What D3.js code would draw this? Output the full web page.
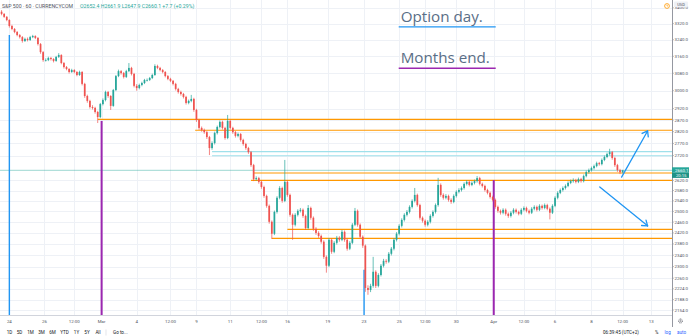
<!DOCTYPE html>
<html><head><meta charset="utf-8">
<script src="https://cdn.jsdelivr.net/npm/d3@7"></script>
<style>html,body{margin:0;padding:0;background:#fff;overflow:hidden}text{font-family:Roboto,"Noto Sans",sans-serif}</style>
</head><body><svg id="chart" width="689" height="336"></svg>
<script>
// S&P 500 CFD, 60-minute bars, 24 Feb - early Apr
const open = [3380,3369,3354,3338,3308,3293,3278,3263,3253,3234,
3244,3239,3253,3258,3249,3219,3180,3142,3142,3152,
3147,3138,3157,3166,3128,3109,3100,3086,3095,3086,
3072,3086,3031,2976,2954,2927,2923,2905,2883,2940,
2958,2994,2976,2932,3003,3067,3090,3081,3063,3090,
3105,3077,3022,3012,3026,3035,3049,3049,3058,3072,
3114,3105,3095,3086,3067,3054,3045,3031,3008,2994,
2985,2972,2945,2954,2963,2914,2870,2836,2827,2818,
2797,2751,2772,2814,2840,2862,2836,2793,2866,2836,
2818,2802,2810,2785,2768,2751,2734,2681,2625,2629,
2614,2594,2559,2521,2461,2417,2498,2552,2590,2540,
2614,2563,2487,2450,2487,2502,2506,2483,2438,2513,
2476,2435,2420,2409,2388,2334,2303,2395,2352,2384,
2402,2395,2424,2395,2363,2384,2450,2502,2450,2406,
2374,2227,2220,2234,2282,2234,2271,2303,2320,2317,
2345,2363,2395,2417,2446,2468,2487,2498,2517,2540,
2563,2524,2476,2465,2450,2461,2483,2498,2524,2602,
2563,2552,2559,2544,2536,2559,2575,2582,2590,2606,
2614,2602,2610,2617,2629,2606,2598,2582,2571,2555,
2544,2517,2502,2495,2506,2491,2483,2495,2506,2498,
2491,2506,2513,2502,2495,2510,2517,2506,2521,2513,
2524,2510,2495,2521,2552,2571,2582,2590,2598,2610,
2617,2621,2614,2625,2617,2637,2653,2661,2669,2677,
2689,2685,2702,2714,2726,2734,2710,2681,2661,2652.4];
const high = [3388,3373,3358,3342,3314,3298,3283,3268,3258,3250,
3251,3259,3264,3262,3253,3224,3185,3150,3158,3157,
3151,3162,3175,3170,3133,3114,3104,3101,3099,3090,
3092,3090,3036,2982,2959,2935,2928,2910,2945,2965,
3000,2999,2980,3008,3072,3097,3095,3086,3096,3128,
3110,3082,3030,3032,3041,3054,3056,3063,3078,3122,
3120,3110,3100,3090,3072,3059,3049,3036,3013,3000,
2990,2977,2960,2981,2968,2919,2875,2842,2833,2823,
2802,2779,2820,2846,2868,2867,2841,2892,2871,2841,
2823,2816,2814,2790,2773,2756,2739,2686,2636,2634,
2619,2599,2564,2526,2466,2503,2558,2597,2595,2702,
2620,2568,2492,2493,2508,2513,2511,2488,2524,2518,
2481,2441,2426,2414,2393,2339,2401,2400,2390,2409,
2408,2431,2429,2400,2390,2456,2513,2507,2455,2411,
2378,2236,2241,2334,2287,2277,2309,2327,2326,2351,
2369,2401,2423,2452,2474,2493,2505,2523,2546,2590,
2568,2529,2481,2470,2467,2489,2504,2530,2630,2608,
2569,2566,2564,2550,2565,2581,2589,2596,2612,2621,
2619,2616,2623,2637,2634,2611,2603,2587,2576,2560,
2549,2522,2507,2512,2511,2496,2501,2512,2511,2503,
2512,2519,2518,2507,2516,2523,2522,2527,2526,2530,
2529,2515,2527,2558,2577,2588,2596,2604,2616,2623,
2628,2626,2631,2630,2643,2659,2667,2675,2683,2695,
2694,2708,2720,2732,2748,2739,2715,2686,2666,2661.9];
const low = [3362,3349,3332,3300,3287,3272,3257,3246,3226,3229,
3232,3234,3248,3243,3212,3172,3134,3135,3137,3140,
3131,3134,3152,3122,3102,3094,3079,3082,3080,3066,
3068,3024,2968,2946,2920,2916,2898,2857,2878,2934,
2952,2968,2914,2928,2998,3062,3074,3056,3058,3085,
3070,3015,3000,3006,3020,3030,3042,3044,3053,3068,
3099,3089,3080,3061,3048,3039,3024,3001,2987,2978,
2965,2938,2939,2948,2906,2862,2828,2820,2811,2789,
2722,2744,2766,2808,2834,2829,2786,2788,2830,2811,
2795,2796,2778,2761,2744,2727,2674,2617,2618,2607,
2587,2552,2514,2454,2398,2412,2492,2546,2533,2535,
2556,2480,2395,2444,2481,2496,2476,2431,2433,2469,
2428,2413,2402,2381,2327,2279,2298,2345,2347,2378,
2388,2390,2388,2356,2358,2379,2445,2443,2399,2366,
2214,2204,2213,2228,2227,2229,2266,2297,2310,2312,
2339,2357,2389,2411,2440,2462,2481,2492,2511,2534,
2518,2469,2458,2443,2444,2455,2477,2492,2518,2556,
2545,2546,2537,2529,2531,2553,2569,2576,2584,2600,
2596,2597,2604,2611,2600,2592,2576,2565,2549,2538,
2510,2495,2488,2489,2484,2476,2477,2489,2492,2485,
2486,2500,2496,2489,2490,2504,2500,2501,2507,2508,
2504,2470,2490,2516,2546,2566,2576,2584,2593,2605,
2611,2608,2609,2611,2612,2632,2647,2655,2663,2672,
2679,2680,2697,2709,2720,2703,2674,2654,2645,2647.9];
const close = [3369,3354,3338,3308,3293,3278,3263,3253,3234,3244,
3239,3253,3258,3249,3219,3180,3142,3142,3152,3147,
3138,3157,3166,3128,3109,3100,3086,3095,3086,3072,
3086,3031,2976,2954,2927,2923,2905,2883,2940,2958,
2994,2976,2932,3003,3067,3090,3081,3063,3090,3105,
3077,3022,3012,3026,3035,3049,3049,3058,3072,3114,
3105,3095,3086,3067,3054,3045,3031,3008,2994,2985,
2972,2945,2954,2963,2914,2870,2836,2827,2818,2797,
2751,2772,2814,2840,2862,2836,2793,2866,2836,2818,
2802,2810,2785,2768,2751,2734,2681,2625,2629,2614,
2594,2559,2521,2461,2417,2498,2552,2590,2540,2614,
2563,2487,2450,2487,2502,2506,2483,2438,2513,2476,
2435,2420,2409,2388,2334,2303,2395,2352,2384,2402,
2395,2424,2395,2363,2384,2450,2502,2450,2406,2374,
2227,2220,2234,2282,2234,2271,2303,2320,2317,2345,
2363,2395,2417,2446,2468,2487,2498,2517,2540,2563,
2524,2476,2465,2450,2461,2483,2498,2524,2602,2563,
2552,2559,2544,2536,2559,2575,2582,2590,2606,2614,
2602,2610,2617,2629,2606,2598,2582,2571,2555,2544,
2517,2502,2495,2506,2491,2483,2495,2506,2498,2491,
2506,2513,2502,2495,2510,2517,2506,2521,2513,2524,
2510,2495,2521,2552,2571,2582,2590,2598,2610,2617,
2621,2614,2625,2617,2637,2653,2661,2669,2677,2689,
2685,2702,2714,2726,2734,2710,2681,2661,2652.4,2660.1];

// price-axis ticks and time-axis ticks (bar index of each label)
const priceTicks = [3400,3320,3240,3160,3080,3000,2920,2870,2820,2770,2720,2620,2580,2540,2500,2460,2420,2380,2340,2300,2260,2224,2188,2154];
const timeLabels = ["24","26","12:00","Mar","4","12:00","9","11","12:00","16","19","23","25","12:00","30","Apr","12:00","6","8","12:00","13"];
const timeIndex  = [3,16.5,28,38.5,52,65,75,88,100,110,125.5,139.5,153,163,175,189.4,201,213,227,239,250];

// drawn levels: price and first bar
const orangeLevels = [2873,2826,2649,2620,2433,2400];
const orangeStart  = [37,74.5,97,96,110,104];
const cyanLevels   = [2736,2719];
const cyanStart    = [81,81];

// vertical markers: bar index and price where each starts
const optionDayIndex = [3,139.5];
const optionDayPrice = [3263,2289];
const monthEndIndex  = [38.5,189.4];
const monthEndPrice  = [2866,2621];

// projection arrows [bar, price] -> [bar, price]
const arrowFrom = [[238.6,2633],[230.2,2594]];
const arrowTo   = [[248.6,2823],[248.6,2446]];

const W=689,H=336, paneRight=672, paneBottom=315;
const UP="#26a69a", DOWN="#ef5350", GRID="#eef1f6";
const svg=d3.select("#chart");
const x=d3.scaleLinear().domain([-0.6,258]).range([0,paneRight]);
const y=d3.scaleLog().domain([3440.5,2137.8]).range([0,paneBottom]);

svg.append("defs").append("clipPath").attr("id","pane")
  .append("rect").attr("x",0).attr("y",0).attr("width",paneRight).attr("height",paneBottom);
const pane=svg.append("g").attr("clip-path","url(#pane)");

// grid
pane.selectAll("line.hg").data(priceTicks).join("line")
  .attr("x1",0).attr("x2",paneRight).attr("y1",d=>Math.round(y(d))+0.5).attr("y2",d=>Math.round(y(d))+0.5)
  .attr("stroke",GRID).attr("stroke-width",1);
pane.selectAll("line.vg").data(timeIndex).join("line")
  .attr("x1",d=>Math.round(x(d))+0.5).attr("x2",d=>Math.round(x(d))+0.5).attr("y1",0).attr("y2",paneBottom)
  .attr("stroke",GRID).attr("stroke-width",1);

// horizontal levels
pane.selectAll("line.cy").data(cyanLevels).join("line")
  .attr("x1",(d,i)=>x(cyanStart[i])).attr("x2",paneRight).attr("y1",d=>y(d)).attr("y2",d=>y(d))
  .attr("stroke","#9fe0ea").attr("stroke-width",1.1);
pane.selectAll("line.or").data(orangeLevels).join("line")
  .attr("x1",(d,i)=>x(orangeStart[i])).attr("x2",paneRight).attr("y1",d=>y(d)).attr("y2",d=>y(d))
  .attr("stroke","#ff9800").attr("stroke-width",1.1);

// last price line
const last=close.length-1;
pane.append("line").attr("x1",0).attr("x2",paneRight)
  .attr("y1",y(close[last])).attr("y2",y(close[last]))
  .attr("stroke",UP).attr("stroke-opacity",0.5).attr("stroke-width",0.9);

// vertical markers
pane.selectAll("line.od").data(optionDayIndex).join("line")
  .attr("x1",d=>x(d)).attr("x2",d=>x(d)).attr("y1",(d,i)=>y(optionDayPrice[i])).attr("y2",paneBottom)
  .attr("stroke","#2196f3").attr("stroke-width",1.4);
pane.selectAll("line.me").data(monthEndIndex).join("line")
  .attr("x1",d=>x(d)).attr("x2",d=>x(d)).attr("y1",(d,i)=>y(monthEndPrice[i])).attr("y2",paneBottom)
  .attr("stroke","#9c27b0").attr("stroke-width",2);

// candles
const bars=close.map((c,i)=>({i,o:open[i],h:high[i],l:low[i],c}));
const step=x(1)-x(0), bw=step*0.66;
pane.selectAll("line.wick").data(bars).join("line")
  .attr("x1",d=>x(d.i)).attr("x2",d=>x(d.i)).attr("y1",d=>y(d.h)).attr("y2",d=>y(d.l))
  .attr("stroke",d=>d.c>=d.o?UP:DOWN).attr("stroke-width",0.7);
pane.selectAll("rect.body").data(bars).join("rect")
  .attr("x",d=>x(d.i)-bw/2).attr("width",bw)
  .attr("y",d=>y(Math.max(d.o,d.c)))
  .attr("height",d=>Math.max(0.7,y(Math.min(d.o,d.c))-y(Math.max(d.o,d.c))))
  .attr("fill",d=>d.c>=d.o?UP:DOWN);

// arrows
const ag=pane.append("g").attr("stroke","#2196f3").attr("stroke-width",1.3).attr("fill","none").attr("stroke-linecap","round");
arrowFrom.forEach((f,k)=>{
  const x1=x(f[0]),y1=y(f[1]),x2=x(arrowTo[k][0]),y2=y(arrowTo[k][1]);
  ag.append("line").attr("x1",x1).attr("y1",y1).attr("x2",x2).attr("y2",y2);
  const a=Math.atan2(y2-y1,x2-x1), L=6;
  [a+Math.PI*0.8,a-Math.PI*0.8].forEach(b=>{
    ag.append("line").attr("x1",x2).attr("y1",y2).attr("x2",x2+L*Math.cos(b)).attr("y2",y2+L*Math.sin(b));
  });
});

// annotations
const notes=[{t:"Option day.",bar:153.6,p:3329,c:"#2196f3"},{t:"Months end.",bar:153.6,p:3127,c:"#9c27b0"}];
notes.forEach(n=>{
  const tx=x(n.bar), ty=y(n.p);
  svg.append("text").attr("x",tx).attr("y",ty).text(n.t)
    .style("font-family","'Open Sans',sans-serif").style("font-size","15.2px").attr("fill","#5a6e86");
  svg.append("line").attr("x1",tx-2).attr("x2",tx+95).attr("y1",ty+5).attr("y2",ty+5)
    .attr("stroke",n.c).attr("stroke-width",1.3);
});

// price axis
svg.append("rect").attr("x",paneRight).attr("y",0).attr("width",W-paneRight).attr("height",327).attr("fill","#fff");
svg.append("line").attr("x1",paneRight+0.5).attr("x2",paneRight+0.5).attr("y1",0).attr("y2",327).attr("stroke","#9598a1").attr("stroke-width",1);
const pa=svg.append("g").attr("transform",`translate(${paneRight},0)`);
pa.selectAll("line").data(priceTicks).join("line")
  .attr("x1",0).attr("x2",2).attr("y1",d=>y(d)).attr("y2",d=>y(d)).attr("stroke","#9598a1").attr("stroke-width",0.6);
pa.selectAll("text").data(priceTicks).join("text")
  .attr("x",2.6).attr("y",d=>y(d)).attr("dy","0.35em").text(d3.format(".1f"))
  .style("font-size","4.4px").attr("fill","#50535e");

// current price labels
pa.append("rect").attr("x",0).attr("y",y(close[last])-3).attr("width",W-paneRight).attr("height",5.4).attr("fill",UP);
pa.append("text").attr("x",3).attr("y",y(close[last])).attr("dy","0.35em").text(d3.format(".1f")(close[last]))
  .style("font-size","4.4px").attr("fill","#fff");
pa.append("rect").attr("x",0).attr("y",y(close[last])+2.4).attr("width",W-paneRight).attr("height",5.2).attr("fill","#1f9286");
pa.append("text").attr("x",4).attr("y",y(close[last])+5).attr("dy","0.35em").text("20:15")
  .style("font-size","4.2px").attr("fill","#fff");

// currency tag and alert icon
pa.append("rect").attr("x",2).attr("y",1.5).attr("width",14).attr("height",5.5).attr("rx",1).attr("fill","#eef1f6");
pa.append("text").attr("x",9).attr("y",4.3).attr("dy","0.35em").attr("text-anchor","middle").text("USD").style("font-size","4px").attr("fill","#50535e");
svg.append("circle").attr("cx",667).attr("cy",6).attr("r",2.4).attr("fill","none").attr("stroke","#ff9800").attr("stroke-width",0.8);
svg.append("path").attr("d","M667,4.6V6H668").attr("fill","none").attr("stroke","#ff9800").attr("stroke-width",0.6);

// time axis
svg.append("line").attr("x1",0).attr("x2",paneRight).attr("y1",paneBottom+0.5).attr("y2",paneBottom+0.5).attr("stroke","#d1d4dc").attr("stroke-width",1);
svg.selectAll("text.tl").data(timeLabels).join("text")
  .attr("x",(d,i)=>x(timeIndex[i])).attr("y",321.3).attr("dy","0.35em").attr("text-anchor","middle").text(d=>d)
  .style("font-size","4.4px").attr("fill","#50535e");
// gear
svg.append("circle").attr("cx",680.5).attr("cy",321).attr("r",2).attr("fill","none").attr("stroke","#50535e").attr("stroke-width",0.8).attr("stroke-dasharray","1,0.6");
svg.append("circle").attr("cx",680.5).attr("cy",321).attr("r",0.8).attr("fill","none").attr("stroke","#50535e").attr("stroke-width",0.5);

// legend header
const fmt=d3.format(".1f"), chg=close[last]-close[last-1];
const head=svg.append("text").attr("x",2).attr("y",5.8).attr("dy","0.35em").style("font-size","5.2px");
head.append("tspan").attr("fill","#50535e").text("S&P 500 · 60 · CURRENCYCOM");
head.append("tspan").attr("x",80).attr("fill",UP)
  .text(`O${fmt(open[last])} H${fmt(high[last])} L${fmt(low[last])} C${fmt(close[last])} ${chg>=0?"+":""}${fmt(chg)} (${chg>=0?"+":""}${d3.format(".2f")(chg/close[last-1]*100)}%)`);

// bottom toolbar
const ranges=["1D","5D","1M","3M","6M","YTD","1Y","5Y","All"];
const rangeX=[9.5,19.5,30.5,41.5,52.5,64.5,76.5,87,98];
svg.selectAll("text.rg").data(ranges).join("text").attr("x",(d,i)=>rangeX[i]).attr("y",332.5).attr("dy","0.35em")
  .attr("text-anchor","middle").text(d=>d).style("font-size","4.6px").attr("fill","#131722");
svg.append("line").attr("x1",106).attr("x2",106).attr("y1",329.5).attr("y2",335.5).attr("stroke","#d1d4dc").attr("stroke-width",0.6);
svg.append("text").attr("x",113).attr("y",332.5).attr("dy","0.35em").text("Go to...").style("font-size","4.6px").attr("fill","#131722");
svg.append("text").attr("x",603).attr("y",332.5).attr("dy","0.35em").text("06:39:45 (UTC+2)").style("font-size","4.6px").attr("fill","#131722");
svg.append("text").attr("x",655).attr("y",332.5).attr("dy","0.35em").text("%").style("font-size","4.6px").attr("fill","#131722");
svg.append("text").attr("x",664.5).attr("y",332.5).attr("dy","0.35em").text("log").style("font-size","4.6px").attr("fill","#2962ff");
svg.append("text").attr("x",677).attr("y",332.5).attr("dy","0.35em").text("auto").style("font-size","4.6px").attr("fill","#2962ff");
</script></body></html>
